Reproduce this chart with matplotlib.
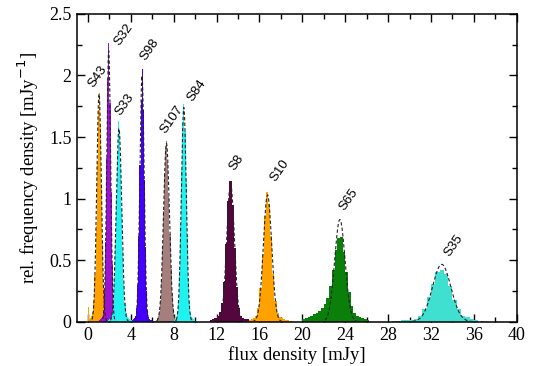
import numpy as np
import matplotlib
matplotlib.use("Agg")
import matplotlib.pyplot as plt
from matplotlib.ticker import MultipleLocator

# sources, drawing order from left to right
sources = ["S43", "S32", "S33", "S98", "S107", "S84", "S8", "S10", "S65", "S35"]
colors = ["#ffa200", "#9b12d0", "#20f2f0", "#4400ff", "#a57e7e",
          "#20f2f0", "#55063e", "#ffa200", "#0a800a", "#40e0d0"]

# gaussian fits: centre, peak height (area normalised to one)
fit_mu = [1.03, 1.93, 2.89, 5.04, 7.32, 8.94, 13.3, 16.75, 23.5, 33.0]
fit_peak = [1.85, 2.20, 1.57, 2.00, 1.45, 1.74, 1.12, 1.03, 0.83, 0.466]

# histograms: first bin edge, bin width, bin heights
hist_start = [0.0, 1.0, 1.9, 4.0, 6.2, 7.9, 11.4, 14.8, 20.0, 28.4]
hist_width = [0.1, 0.1, 0.1, 0.1, 0.1, 0.1, 0.2, 0.2, 0.25, 0.4]
h_s43 = [0.12, 0.02, 0.03, 0.05, 0.08, 0.17, 0.38, 0.78, 1.30, 1.72, 1.86,
         1.60, 1.12, 0.64, 0.30, 0.12, 0.05, 0.02, 0.01, 0.005, 0.0]
h_s32 = [0.01, 0.02, 0.03, 0.04, 0.08, 0.25, 0.65, 1.33, 1.98, 2.26, 1.78,
         1.05, 0.47, 0.16, 0.06, 0.03, 0.02, 0.01, 0.005]
h_s33 = [0.01, 0.02, 0.04, 0.08, 0.17, 0.36, 0.65, 1.02, 1.38, 1.63, 1.54,
         1.27, 0.92, 0.58, 0.31, 0.15, 0.07, 0.04, 0.03, 0.02, 0.015, 0.01, 0.005]
h_s98 = [0.005, 0.01, 0.02, 0.03, 0.05, 0.11, 0.30, 0.70, 1.27, 1.80, 2.05,
         1.72, 1.15, 0.61, 0.25, 0.09, 0.04, 0.025, 0.015, 0.01, 0.005, 0.003]
h_s107 = [0.005, 0.01, 0.03, 0.05, 0.09, 0.18, 0.35, 0.59, 0.90, 1.21, 1.41,
          1.47, 1.30, 1.02, 0.71, 0.43, 0.23, 0.11, 0.05, 0.02, 0.01, 0.005, 0.0]
h_s84 = [0.005, 0.01, 0.02, 0.03, 0.07, 0.18, 0.41, 0.78, 1.23, 1.62, 1.77,
         1.55, 1.14, 0.70, 0.35, 0.15, 0.07, 0.04, 0.03, 0.02, 0.01, 0.005]
h_s8 = [0.01, 0.02, 0.03, 0.05, 0.08, 0.15, 0.32, 0.63, 0.98, 1.14, 0.95,
        0.60, 0.28, 0.11, 0.05, 0.03, 0.025, 0.02, 0.015, 0.01, 0.005]
h_s10 = [0.005, 0.01, 0.02, 0.03, 0.05, 0.11, 0.27, 0.55, 0.86, 1.05, 0.96,
         0.70, 0.39, 0.17, 0.07, 0.04, 0.03, 0.02, 0.015, 0.01, 0.005]
h_s65 = [0.02, 0.03, 0.04, 0.05, 0.06, 0.07, 0.09, 0.11, 0.14, 0.19, 0.29,
         0.42, 0.58, 0.68, 0.69, 0.57, 0.40, 0.24, 0.13, 0.07, 0.05, 0.04,
         0.03, 0.02, 0.01]
h_s35 = [0.005, 0.007, 0.01, 0.01, 0.015, 0.025, 0.05, 0.10, 0.20, 0.31,
         0.40, 0.42, 0.39, 0.29, 0.18, 0.10, 0.05, 0.035, 0.02, 0.01]
heights = [h_s43, h_s32, h_s33, h_s98, h_s107, h_s84, h_s8, h_s10, h_s65, h_s35]

# label positions (text centre, data coordinates)
label_x = [0.91, 3.33, 3.44, 5.76, 7.79, 10.1, 13.9, 17.9, 24.3, 34.15]
label_y = [1.99, 2.33, 1.76, 2.21, 1.64, 1.88, 1.29, 1.23, 0.99, 0.62]

serif = "Liberation Serif"
plt.rcParams["xtick.direction"] = "in"
plt.rcParams["ytick.direction"] = "in"
plt.rcParams["xtick.top"] = True
plt.rcParams["ytick.right"] = True

fig = plt.figure(figsize=(5.36, 3.66), dpi=100)
ax = fig.add_axes([0.1442, 0.121, 0.8198, 0.841])

for i in range(len(sources)):
    h = np.array(heights[i])
    edges = hist_start[i] + hist_width[i] * np.arange(len(h) + 1)
    ax.stairs(h, edges, fill=True, color=colors[i], lw=0, zorder=2 + i * 0.01)

# dashed gaussian fits on top
for mu, pk in zip(fit_mu, fit_peak):
    sig = 1.0 / (pk * np.sqrt(2 * np.pi))
    xs = np.linspace(mu - 5 * sig, mu + 5 * sig, 300)
    ax.plot(xs, pk * np.exp(-0.5 * ((xs - mu) / sig) ** 2), color="#222222",
            lw=0.8, ls=(0, (3, 2)), zorder=5)

for name, lx, ly in zip(sources, label_x, label_y):
    ax.text(lx, ly, name, rotation=55, ha="center", va="center",
            family="Liberation Sans", fontsize=9.5, zorder=6)

ax.set_xlim(-1, 40)
ax.set_ylim(0, 2.5)
ax.xaxis.set_major_locator(MultipleLocator(4))
ax.xaxis.set_minor_locator(MultipleLocator(2))
ax.yaxis.set_major_locator(MultipleLocator(0.5))
ax.yaxis.set_minor_locator(MultipleLocator(0.25))
ax.yaxis.set_major_formatter(plt.FuncFormatter(lambda v, p: "%g" % v))
ax.tick_params(which="major", length=6, width=1, pad=4)
ax.tick_params(which="minor", length=3.5, width=1)
for lab in ax.get_xticklabels() + ax.get_yticklabels():
    lab.set_family(serif)
    lab.set_fontsize(13)
for sp in ax.spines.values():
    sp.set_linewidth(1.1)

ax.set_xlabel("flux density [mJy]", family=serif, fontsize=13.5, labelpad=1)
ax.set_ylabel("rel. frequency density [mJy$^{-1}$]", family=serif,
              fontsize=13.5, labelpad=6)

fig.savefig("out.png", dpi=100)
